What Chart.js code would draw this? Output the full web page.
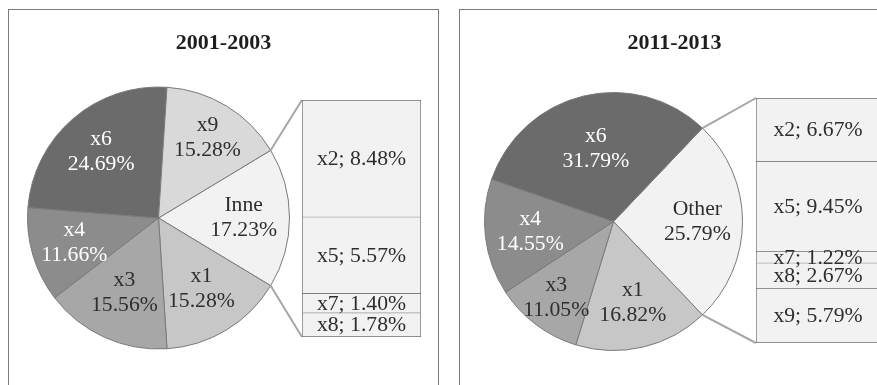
<!DOCTYPE html>
<html>
<head>
<meta charset="utf-8">
<script src="https://cdn.jsdelivr.net/npm/chart.js@4.4.0/dist/chart.umd.min.js"></script>
<style>
  body { margin: 0; background: #fff; overflow: hidden; width: 877px; height: 385px; position: relative; }
  .panel { position: absolute; top: 9px; width: 429px; height: 390px; border: 1px solid #7c7c7c; background: #fff; }
  .panel canvas { position: absolute; left: 0; top: 0; }
</style>
</head>
<body>
<div class="panel" style="left:8px">
  <canvas id="pie1" width="429" height="390"></canvas>
  <canvas id="bar1" width="429" height="390"></canvas>
</div>
<div class="panel" style="left:459px">
  <canvas id="pie2" width="429" height="390"></canvas>
  <canvas id="bar2" width="429" height="390"></canvas>
</div>
<script>
// 2001-2003: main pie (first slice is the grouped one) and its breakdown
const labels2001 = ['Inne', 'x1', 'x3', 'x4', 'x6', 'x9'];
const shares2001 = [17.23, 15.28, 15.56, 11.66, 24.69, 15.28];
const otherLabels2001 = ['x2', 'x5', 'x7', 'x8'];
const otherShares2001 = [8.48, 5.57, 1.40, 1.78];

// 2011-2013
const labels2011 = ['Other', 'x1', 'x3', 'x4', 'x6'];
const shares2011 = [25.79, 16.82, 11.05, 14.55, 31.79];
const otherLabels2011 = ['x2', 'x5', 'x7', 'x8', 'x9'];
const otherShares2011 = [6.67, 9.45, 1.22, 2.67, 5.79];

const sliceColors = {
  Inne: '#f2f2f2', Other: '#f2f2f2',
  x1: '#c7c7c7', x3: '#a7a7a7', x4: '#8c8c8c', x6: '#6b6b6b', x9: '#d9d9d9'
};
const whiteText = ['x4', 'x6'];
const FONT = "'Liberation Serif', 'Times New Roman', serif";
const TEXT = '#2e2e2e';

// where the label sits along each slice's bisector (fraction of radius)
const labelPos2001 = [0.65, 0.63, 0.63, 0.67, 0.67, 0.72];
const labelPos2011 = [0.65, 0.65, 0.74, 0.65, 0.58];

function sum(arr) {
  return arr.reduce((a, b) => a + b, 0);
}

function makePie(canvasId, title, labels, values, cx, cy, r, labelPos) {
  const canvas = document.getElementById(canvasId);
  const W = canvas.width, H = canvas.height;
  // turn the pie so the grouped slice points straight right
  const otherDeg = 360 * values[0] / sum(values);

  const pieText = {
    id: 'pieText',
    afterDatasetsDraw(chart) {
      const ctx = chart.ctx;
      ctx.save();
      ctx.textAlign = 'center';
      ctx.textBaseline = 'middle';
      ctx.font = 'bold 22px ' + FONT;
      ctx.fillStyle = '#1e1e1e';
      ctx.fillText(title, W / 2, 33);

      ctx.font = '21.7px ' + FONT;
      chart.getDatasetMeta(0).data.forEach((arc, i) => {
        const p = arc.getProps(['x', 'y', 'startAngle', 'endAngle', 'outerRadius'], true);
        const mid = (p.startAngle + p.endAngle) / 2;
        const d = p.outerRadius * labelPos[i];
        const x = p.x + Math.cos(mid) * d;
        const y = p.y + Math.sin(mid) * d;
        ctx.fillStyle = whiteText.includes(labels[i]) ? '#ffffff' : TEXT;
        ctx.fillText(labels[i], x, y - 12.5);
        ctx.fillText(values[i].toFixed(2) + '%', x, y + 12.5);
      });
      ctx.restore();
    }
  };

  return new Chart(canvas, {
    type: 'pie',
    data: {
      labels: labels,
      datasets: [{
        data: values,
        backgroundColor: labels.map((l) => sliceColors[l]),
        borderColor: '#7a7a7a',
        borderWidth: 1,
      }],
    },
    options: {
      responsive: false,
      animation: false,
      events: [],
      rotation: 90 - otherDeg / 2,
      radius: r,
      layout: {
        padding: { left: cx - r, top: cy - r, right: W - cx - r, bottom: H - cy - r },
      },
      plugins: { legend: { display: false }, tooltip: { enabled: false } },
    },
    plugins: [pieText],
  });
}

function makeBreakdown(canvasId, labels, values, box, pieChart) {
  const canvas = document.getElementById(canvasId);
  const W = canvas.width, H = canvas.height;
  const last = labels.length - 1;

  // lines from the grouped slice edges to the stacked column corners
  const connector = {
    id: 'connector',
    beforeDatasetsDraw(chart) {
      const arc = pieChart.getDatasetMeta(0).data[0];
      const p = arc.getProps(['x', 'y', 'startAngle', 'endAngle', 'outerRadius'], true);
      const area = chart.chartArea;
      const ctx = chart.ctx;
      ctx.save();
      ctx.strokeStyle = '#a6a6a6';
      ctx.lineWidth = 2;
      ctx.beginPath();
      ctx.moveTo(p.x + Math.cos(p.startAngle) * p.outerRadius, p.y + Math.sin(p.startAngle) * p.outerRadius);
      ctx.lineTo(area.left, area.top);
      ctx.moveTo(p.x + Math.cos(p.endAngle) * p.outerRadius, p.y + Math.sin(p.endAngle) * p.outerRadius);
      ctx.lineTo(area.left, area.bottom);
      ctx.stroke();
      ctx.restore();
    },
    afterDatasetsDraw(chart) {
      const ctx = chart.ctx;
      ctx.save();
      ctx.textAlign = 'center';
      ctx.textBaseline = 'middle';
      ctx.font = '21.7px ' + FONT;
      ctx.fillStyle = TEXT;
      chart.data.datasets.forEach((ds, i) => {
        const bar = chart.getDatasetMeta(i).data[0];
        const b = bar.getProps(['x', 'y', 'base'], true);
        ctx.fillText(labels[i] + '; ' + values[i].toFixed(2) + '%', b.x, (b.y + b.base) / 2 + 1);
      });
      ctx.restore();
    }
  };

  return new Chart(canvas, {
    type: 'bar',
    data: {
      labels: [''],
      datasets: labels.map((name, i) => ({
        label: name,
        data: [values[i]],
        backgroundColor: '#f2f2f2',
        borderColor: '#6e6e6e',
        borderWidth: { top: 1, left: 1, right: 1, bottom: i === last ? 1 : 0 },
        borderSkipped: false,
        barPercentage: 1,
        categoryPercentage: 1,
      })),
    },
    options: {
      responsive: false,
      animation: false,
      events: [],
      layout: {
        padding: { left: box.left, top: box.top, right: W - box.right, bottom: H - box.bottom },
      },
      scales: {
        x: { stacked: true, display: false },
        y: { stacked: true, display: false, reverse: true, min: 0, max: sum(values) },
      },
      plugins: { legend: { display: false }, tooltip: { enabled: false } },
    },
    plugins: [connector],
  });
}

const pie1 = makePie('pie1', '2001-2003', labels2001, shares2001, 149.5, 208, 131, labelPos2001);
makeBreakdown('bar1', otherLabels2001, otherShares2001, { left: 293, top: 90, right: 412, bottom: 327 }, pie1);

const pie2 = makePie('pie2', '2011-2013', labels2011, shares2011, 153.5, 211.5, 129, labelPos2011);
makeBreakdown('bar2', otherLabels2011, otherShares2011, { left: 296, top: 88, right: 420, bottom: 333 }, pie2);
</script>
</body>
</html>
